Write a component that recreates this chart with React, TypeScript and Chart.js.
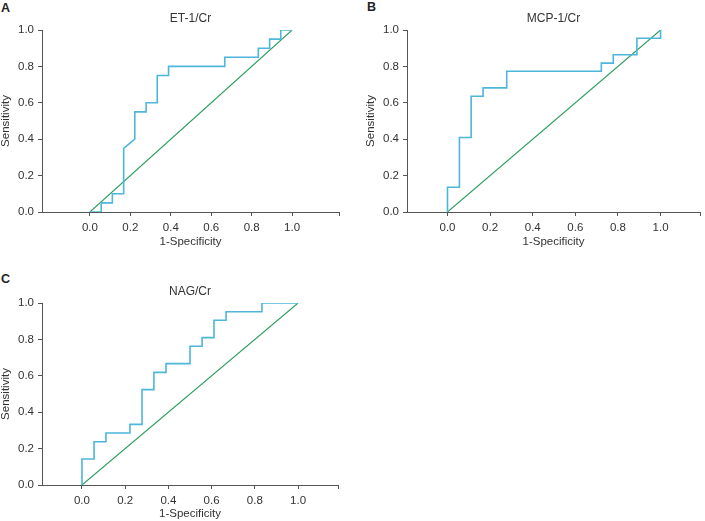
import React, { useEffect, useRef } from "react";
import { Chart, registerables } from "chart.js";

Chart.register(...registerables);

// ---- Data ----
const TICK_VALUES = [0, 0.2, 0.4, 0.6, 0.8, 1.0];

const TITLE_A = "ET-1/Cr";
const FPR_A = [0, 0.056, 0.056, 0.111, 0.111, 0.167, 0.167, 0.222, 0.222, 0.278, 0.278, 0.333, 0.333, 0.389, 0.389, 0.667, 0.667, 0.833, 0.833, 0.889, 0.889, 0.944, 0.944, 1.0];
const TPR_A = [0, 0, 0.05, 0.05, 0.1, 0.1, 0.35, 0.4, 0.55, 0.55, 0.6, 0.6, 0.75, 0.75, 0.8, 0.8, 0.85, 0.85, 0.9, 0.9, 0.95, 0.95, 1.0, 1.0];

const TITLE_B = "MCP-1/Cr";
const FPR_B = [0, 0, 0.056, 0.056, 0.111, 0.111, 0.167, 0.167, 0.278, 0.278, 0.722, 0.722, 0.778, 0.778, 0.889, 0.889, 1.0, 1.0];
const TPR_B = [0, 0.136, 0.136, 0.409, 0.409, 0.636, 0.636, 0.682, 0.682, 0.773, 0.773, 0.818, 0.818, 0.864, 0.864, 0.955, 0.955, 1.0];

const TITLE_C = "NAG/Cr";
const FPR_C = [0, 0, 0.056, 0.056, 0.111, 0.111, 0.222, 0.222, 0.278, 0.278, 0.333, 0.333, 0.389, 0.389, 0.5, 0.5, 0.556, 0.556, 0.611, 0.611, 0.667, 0.667, 0.833, 0.833, 1.0];
const TPR_C = [0, 0.143, 0.143, 0.238, 0.238, 0.286, 0.286, 0.333, 0.333, 0.524, 0.524, 0.619, 0.619, 0.667, 0.667, 0.762, 0.762, 0.81, 0.81, 0.905, 0.905, 0.952, 0.952, 1.0, 1.0];

const DIAG_X = [0, 1];
const DIAG_Y = [0, 1];

const X_LABEL = "1-Specificity";
const Y_LABEL = "Sensitivity";

// ---- Styling ----
const FONT = "'Liberation Sans', Arial, Helvetica, sans-serif";
const TEXT_COLOR = "#333333";
const AXIS_COLOR = "#555555";
const ROC_COLOR = "#4db6da";
const DIAG_COLOR = "#2a9d5c";

type PanelProps = {
  fpr: number[];
  tpr: number[];
  title: string;
  letter: string;
  xMin: number;
  xMax: number;
  left: number;
  top: number;
  width: number;
  height: number;
  padRight: number;
  xScaleHeight: number;
  xTitlePad: number;
  letterLeft: number;
  letterTop: number;
};

function Panel(p: PanelProps) {
  const ref = useRef<HTMLCanvasElement | null>(null);
  useEffect(() => {
    if (!ref.current) return;
    const chart = new Chart(ref.current, {
      type: "scatter",
      data: {
        datasets: [
          {
            data: p.fpr.map((x, i) => ({ x, y: p.tpr[i] })),
            showLine: true,
            borderColor: ROC_COLOR,
            borderWidth: 1.6,
            pointRadius: 0,
            fill: false,
            tension: 0,
          },
          {
            data: DIAG_X.map((x, i) => ({ x, y: DIAG_Y[i] })),
            showLine: true,
            borderColor: DIAG_COLOR,
            borderWidth: 1.1,
            pointRadius: 0,
            fill: false,
          },
        ],
      },
      options: {
        animation: false,
        responsive: false,
        maintainAspectRatio: false,
        layout: { padding: { left: 0, right: p.padRight, top: 0, bottom: 0 } },
        plugins: {
          legend: { display: false },
          tooltip: { enabled: false },
          title: {
            display: true,
            text: p.title,
            fullSize: false,
            color: TEXT_COLOR,
            font: { family: FONT, size: 12, weight: "normal" },
            padding: { top: 11, bottom: 4.6 },
          },
        },
        scales: {
          x: {
            type: "linear",
            min: p.xMin,
            max: p.xMax,
            afterBuildTicks: (scale: any) => {
              scale.ticks = [...TICK_VALUES, p.xMax].map((v) => ({ value: v }));
            },
            afterFit: (scale: any) => {
              scale.height = p.xScaleHeight;
            },
            ticks: {
              autoSkip: false,
              maxRotation: 0,
              padding: 5,
              color: TEXT_COLOR,
              font: { family: FONT, size: 11.5 },
              callback: (v: any) => (TICK_VALUES.includes(v) ? Number(v).toFixed(1) : ""),
            },
            grid: { drawOnChartArea: false, drawTicks: true, tickLength: 4, color: AXIS_COLOR },
            border: { display: true, color: AXIS_COLOR, width: 1 },
            title: {
              display: true,
              text: X_LABEL,
              color: TEXT_COLOR,
              font: { family: FONT, size: 11.5 },
              padding: { top: 0, bottom: p.xTitlePad },
            },
          },
          y: {
            type: "linear",
            min: 0,
            max: 1,
            afterBuildTicks: (scale: any) => {
              scale.ticks = TICK_VALUES.map((v) => ({ value: v }));
            },
            afterFit: (scale: any) => {
              scale.width = 42;
            },
            ticks: {
              padding: 4,
              color: TEXT_COLOR,
              font: { family: FONT, size: 11.5 },
              callback: (v: any) => Number(v).toFixed(1),
            },
            grid: { drawOnChartArea: false, drawTicks: true, tickLength: 4, color: AXIS_COLOR },
            border: { display: true, color: AXIS_COLOR, width: 1 },
            title: {
              display: true,
              text: Y_LABEL,
              color: TEXT_COLOR,
              font: { family: FONT, size: 11.5 },
              padding: { top: -1, bottom: 0 },
            },
          },
        },
      },
    } as any);
    return () => chart.destroy();
  }, []);

  return (
    <>
      <div
        style={{
          position: "absolute",
          left: p.letterLeft,
          top: p.letterTop,
          fontFamily: FONT,
          fontWeight: "bold",
          fontSize: 12.5,
          lineHeight: "12px",
          color: "#222",
        }}
      >
        {p.letter}
      </div>
      <div style={{ position: "absolute", left: p.left, top: p.top, width: p.width, height: p.height }}>
        <canvas ref={ref} width={p.width} height={p.height} style={{ width: p.width, height: p.height, display: "block" }} />
      </div>
    </>
  );
}

export default function App() {
  return (
    <div
      style={{
        position: "fixed",
        left: 0,
        top: 0,
        width: 705,
        height: 521,
        overflow: "hidden",
        background: "#ffffff",
      }}
    >
      <Panel fpr={FPR_A} tpr={TPR_A} title={TITLE_A} letter="A" xMin={-0.237} xMax={1.232}
        left={0} top={0} width={345} height={250} padRight={6} xScaleHeight={38} xTitlePad={1.5}
        letterLeft={1} letterTop={2} />
      <Panel fpr={FPR_B} tpr={TPR_B} title={TITLE_B} letter="B" xMin={-0.19} xMax={1.185}
        left={365} top={0} width={340} height={250} padRight={1} xScaleHeight={38} xTitlePad={1.5}
        letterLeft={367} letterTop={1} />
      <Panel fpr={FPR_C} tpr={TPR_C} title={TITLE_C} letter="C" xMin={-0.185} xMax={1.185}
        left={0} top={273} width={345} height={248} padRight={7} xScaleHeight={36} xTitlePad={0}
        letterLeft={1} letterTop={273} />
    </div>
  );
}
